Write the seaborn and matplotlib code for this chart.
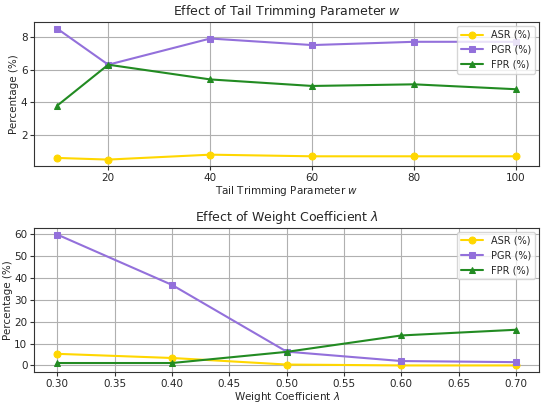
import matplotlib
matplotlib.use("Agg")
import matplotlib.pyplot as plt
import seaborn as sns
import pandas as pd

w_values = [10, 20, 40, 60, 80, 100]
asr_w = [0.6, 0.5, 0.8, 0.7, 0.7, 0.7]
pgr_w = [8.5, 6.3, 7.9, 7.5, 7.7, 7.7]
fpr_w = [3.8, 6.3, 5.4, 5.0, 5.1, 4.8]

lam_values = [0.3, 0.4, 0.5, 0.6, 0.7]
asr_l = [5.3, 3.4, 0.4, 0.0, 0.0]
pgr_l = [59.8, 36.8, 6.3, 2.0, 1.5]
fpr_l = [1.1, 1.1, 6.2, 13.7, 16.3]

series_names = ["ASR (%)", "PGR (%)", "FPR (%)"]
colors = ["#FFD700", "#9370DB", "#228B22"]
markers = ["o", "s", "^"]

sns.set_style("whitegrid", {"axes.edgecolor": "#333333", "grid.color": "#b0b0b0"})
plt.rcParams['font.family'] = ['DejaVu Sans']

fig, axes = plt.subplots(2, 1, figsize=(5.45, 4.03), dpi=100)

def draw(ax, x, ys, xlabel, title):
    for name, y, c, m in zip(series_names, ys, colors, markers):
        df = pd.DataFrame({"x": x, "y": y})
        sns.lineplot(data=df, x="x", y="y", ax=ax, color=c, marker=m,
                     markersize=5, markeredgecolor=c, linewidth=1.5, label=name)
    ax.set_xlabel(xlabel, fontsize=7.5, labelpad=1)
    ax.set_ylabel("Percentage (%)", fontsize=7.5, labelpad=1)
    ax.set_title(title, fontsize=9, pad=5)
    ax.tick_params(labelsize=7.5, length=3, pad=2, left=True, bottom=True, color="#333333")
    for s in ax.spines.values():
        s.set_linewidth(0.8)
    leg = ax.legend(loc="upper right", fontsize=7, frameon=True, borderpad=0.4,
                    labelspacing=0.5, handlelength=2.3, borderaxespad=0.4)
    leg.get_frame().set_edgecolor("#cccccc")

draw(axes[0], w_values, [asr_w, pgr_w, fpr_w], "Tail Trimming Parameter $w$", "Effect of Tail Trimming Parameter $w$")
axes[0].set_xticks([20, 40, 60, 80, 100])
axes[0].set_yticks([2, 4, 6, 8])

draw(axes[1], lam_values, [asr_l, pgr_l, fpr_l], "Weight Coefficient $\\lambda$", "Effect of Weight Coefficient $\\lambda$")
axes[1].set_xticks([0.30, 0.35, 0.40, 0.45, 0.50, 0.55, 0.60, 0.65, 0.70])
axes[1].set_xticklabels([f"{v:.2f}" for v in [0.30, 0.35, 0.40, 0.45, 0.50, 0.55, 0.60, 0.65, 0.70]])
axes[1].set_yticks([0, 10, 20, 30, 40, 50, 60])

fig.subplots_adjust(left=0.063, right=0.989, top=0.945, bottom=0.077, hspace=0.43)
fig.savefig("out.png", dpi=100)
